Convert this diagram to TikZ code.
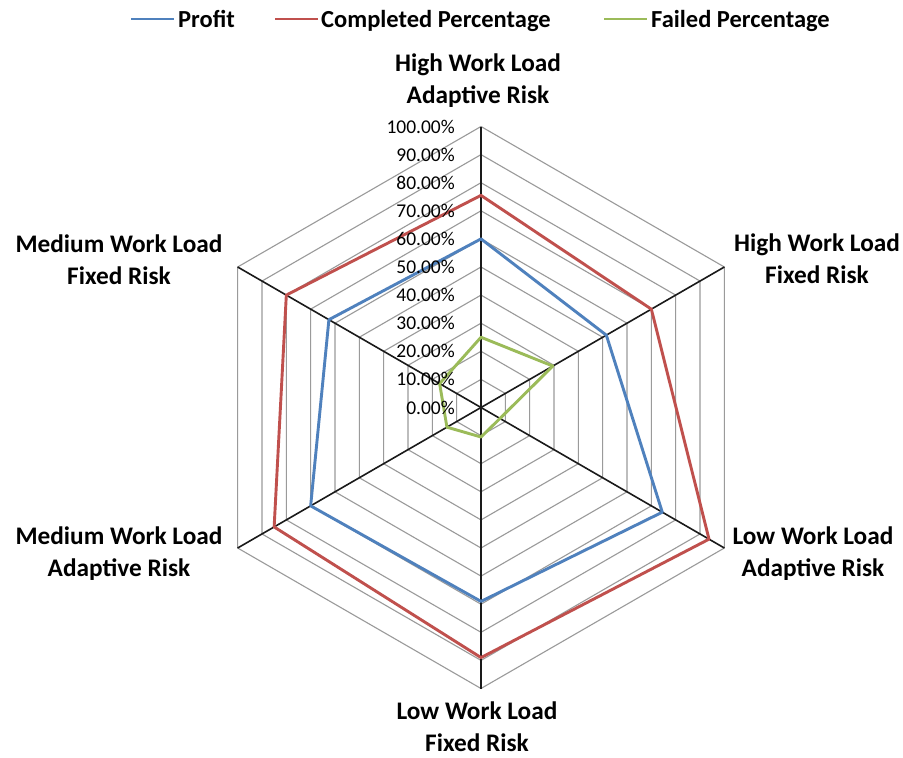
\documentclass[tikz,border=0pt]{standalone}
\usepackage{fontspec}
\setmainfont{Carlito}
\usetikzlibrary{calc}
\definecolor{pblue}{HTML}{4F81BD}
\definecolor{cred}{HTML}{C0504D}
\definecolor{fgreen}{HTML}{9BBB59}
\definecolor{ringgray}{HTML}{9A9A9A}
\definecolor{spokegray}{HTML}{1A1A1A}
\tikzset{
  ring/.style={draw=ringgray, line width=1.1pt},
  spoke/.style={draw=spokegray, line width=1.6pt},
  series/.style={line width=2.9pt, line join=round},
  ticklbl/.style={anchor=east, inner sep=0pt, font=\fontsize{19.5}{22}\selectfont},
  axlbl/.style={anchor=north, inner sep=0pt, align=center, font=\fontsize{25.3}{31.8}\selectfont\bfseries},
  leglbl/.style={anchor=base west, inner sep=0pt, font=\fontsize{24.5}{28}\selectfont\bfseries},
}
\begin{document}
\begin{tikzpicture}[x=1pt,y=1pt]
\useasboundingbox[fill=white] (0,0) rectangle (903,-758);
\begin{scope}[shift={(481,-407.5)}]
  \coordinate (c) at (0,0);
  % rings
  \foreach \k in {1,...,10} {
    \pgfmathsetmacro\r{\k*28.1}
    \draw[ring] (90:\r) -- (30:\r) -- (-30:\r) -- (-90:\r) -- (210:\r) -- (150:\r) -- cycle;
  }
  % spokes
  \foreach \a/\n in {90/a0,30/a1,-30/a2,-90/a3,210/a4,150/a5} {
    \coordinate (\n) at (\a:281);
    \draw[spoke] (c) -- (\n);
  }
  % series
  \draw[series, pblue] (90:{0.60*281}) -- (30:{0.515*281}) -- (-30:{0.745*281}) -- (-90:{0.69*281}) -- (210:{0.70*281}) -- (150:{0.625*281}) -- cycle;
  \draw[series, cred] (90:{0.755*281}) -- (30:{0.70*281}) -- (-30:{0.937*281}) -- (-90:{0.89*281}) -- (210:{0.85*281}) -- (150:{0.80*281}) -- cycle;
  \draw[series, fgreen] (90:{0.25*281}) -- (30:{0.295*281}) -- (-30:{0.078*281}) -- (-90:{0.105*281}) -- (210:{0.14*281}) -- (150:{0.17*281}) -- cycle;
  % tick labels
  \foreach \k in {0,...,10} {
    \pgfmathtruncatemacro\v{\k*10}
    \node[ticklbl] (t\k) at (-26, {\k*28.1}) {\v.00\%};
  }
\end{scope}
% axis labels
\node[axlbl] (l0) at (478,-54) {High Work Load\\Adaptive Risk};
\node[axlbl] (l1) at (817,-234) {High Work Load\\Fixed Risk};
\node[axlbl] (l2) at (813,-527) {Low Work Load\\Adaptive Risk};
\node[axlbl] (l3) at (477,-702) {Low Work Load\\Fixed Risk};
\node[axlbl] (l4) at (119,-527) {Medium Work Load\\Adaptive Risk};
\node[axlbl] (l5) at (119,-235) {Medium Work Load\\Fixed Risk};
% legend
\coordinate (lb1) at (131,-19); \coordinate (lb2) at (174,-19);
\coordinate (lr1) at (275,-19); \coordinate (lr2) at (318,-19);
\coordinate (lg1) at (604,-19); \coordinate (lg2) at (647,-19);
\draw[series, pblue] (lb1) -- (lb2);
\draw[series, cred] (lr1) -- (lr2);
\draw[series, fgreen] (lg1) -- (lg2);
\node[leglbl] (leg1) at (178,-27) {Profit};
\node[leglbl] (leg2) at (321,-27) {Completed Percentage};
\node[leglbl] (leg3) at (651,-27) {Failed Percentage};
\end{tikzpicture}
\end{document}
